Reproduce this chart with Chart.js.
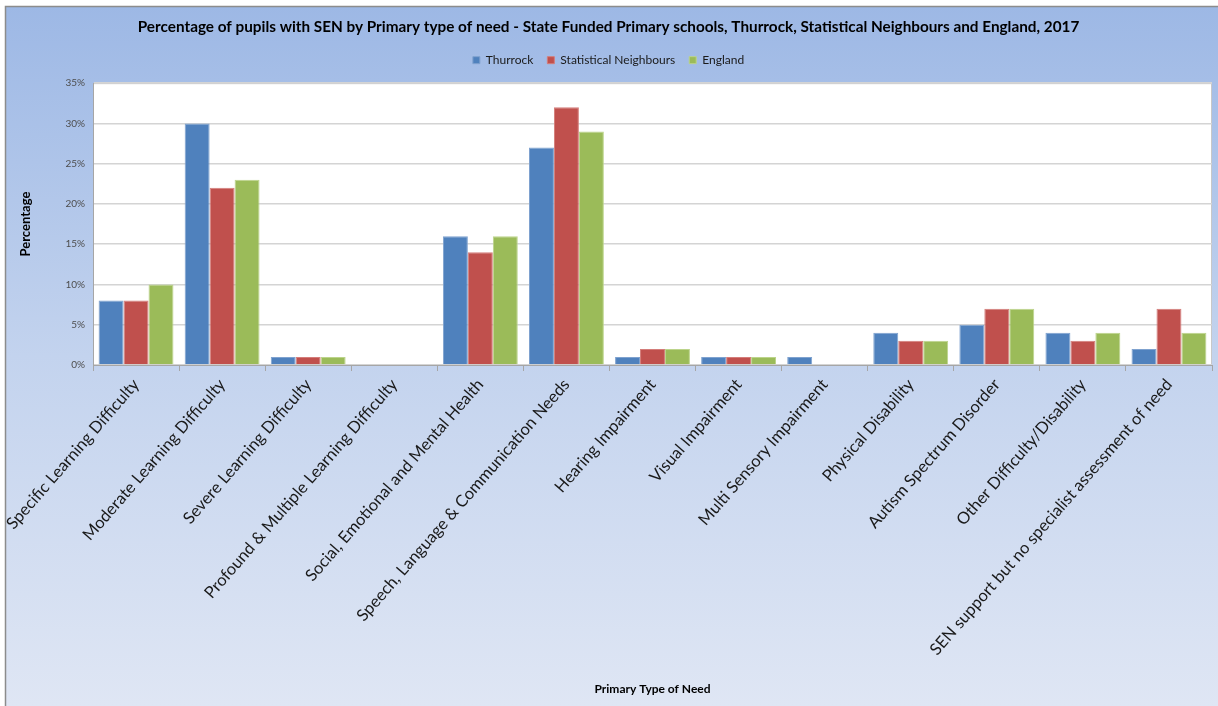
<!DOCTYPE html>
<html>
<head>
<meta charset="utf-8">
<title>SEN by primary type of need</title>
<script src="https://cdn.jsdelivr.net/npm/chart.js@4"></script>
<style>
  html, body { margin: 0; padding: 0; background: #ffffff; }
  #wrap { width: 1218px; height: 706px; position: relative; }
</style>
</head>
<body>
<div id="wrap"><canvas id="chartSEN"></canvas></div>
<script>
// primary type of need categories
const needTypes = [
    "Specific Learning Difficulty",
    "Moderate Learning Difficulty",
    "Severe Learning Difficulty",
    "Profound & Multiple Learning Difficulty",
    "Social, Emotional and Mental Health",
    "Speech, Language & Communication Needs",
    "Hearing Impairment",
    "Visual Impairment",
    "Multi Sensory Impairment",
    "Physical Disability",
    "Autism Spectrum Disorder",
    "Other Difficulty/Disability",
    "SEN support but no specialist assessment of need"
];

// percentage of pupils with SEN, 2017
const thurrock       = [8, 30, 1, 0, 16, 27, 1, 1, 1, 4, 5, 4, 2];
const statNeighbours = [8, 22, 1, 0, 14, 32, 2, 1, 0, 3, 7, 3, 7];
const england        = [10, 23, 1, 0, 16, 29, 2, 1, 0, 3, 7, 4, 4];

const yTicks = [0, 5, 10, 15, 20, 25, 30, 35];

const labelFont = "Lato, 'Open Sans', sans-serif";

/*
    Paints the blue frame and the white plot area behind the bars
*/
const backdrop = {
    id: "backdrop",
    beforeDraw(chart) {
        const ctx = chart.ctx;
        const w = chart.width, h = chart.height;
        ctx.save();
        ctx.fillStyle = "#ffffff";
        ctx.fillRect(0, 0, w, h);
        const grad = ctx.createLinearGradient(0, 6, 0, h);
        grad.addColorStop(0, "#9db8e5");
        grad.addColorStop(0.5, "#c3d3ee");
        grad.addColorStop(1, "#dfe6f4");
        ctx.fillStyle = grad;
        ctx.fillRect(5, 6, w - 5, h - 6);
        // frame edge
        ctx.strokeStyle = "#8c8c8c";
        ctx.lineWidth = 1.5;
        ctx.beginPath();
        ctx.moveTo(5.5, h);
        ctx.lineTo(5.5, 6.5);
        ctx.lineTo(w, 6.5);
        ctx.stroke();
        // plot area
        const a = chart.chartArea;
        ctx.fillStyle = "#ffffff";
        ctx.fillRect(a.left, a.top, a.right - a.left, a.bottom - a.top);
        ctx.strokeStyle = "#c8c8c8";
        ctx.lineWidth = 1;
        ctx.strokeRect(a.left + 0.5, a.top + 0.5, a.right - a.left - 1, a.bottom - a.top - 1);
        ctx.restore();
    }
};

function makeSeries(label, data, fill, edge) {
    return {
        label: label,
        data: data,
        backgroundColor: fill,
        borderColor: edge,
        borderWidth: 1,
        categoryPercentage: 0.87,
        barPercentage: 1.0
    };
}

const ctx = document.getElementById("chartSEN");

new Chart(ctx, {
    type: "bar",
    data: {
        labels: needTypes,
        datasets: [
            makeSeries("Thurrock", thurrock, "#4f81bd", "#7fa2cf"),
            makeSeries("Statistical Neighbours", statNeighbours, "#c0504d", "#d47d7a"),
            makeSeries("England", england, "#9bbb59", "#bcd48b")
        ]
    },
    options: {
        responsive: true,
        maintainAspectRatio: false,
        animation: false,
        layout: {
            padding: { left: 5, right: 6, top: 6, bottom: 0 }
        },
        plugins: {
            title: {
                display: true,
                text: "Percentage of pupils with SEN by Primary type of need - State Funded Primary schools, Thurrock, Statistical Neighbours and England, 2017",
                color: "#000000",
                font: { family: labelFont, size: 15.3, weight: "bold", lineHeight: 1.2 },
                padding: { top: 11.8, bottom: 4 }
            },
            legend: {
                display: true,
                position: "top",
                weight: 1600,
                labels: {
                    color: "#1a1a1a",
                    font: { family: labelFont, size: 12 },
                    boxWidth: 7,
                    boxHeight: 7,
                    padding: 14
                }
            },
            // empty spacer between the legend and the plot
            subtitle: {
                display: true,
                text: "",
                font: { size: 5, lineHeight: 1 },
                padding: { top: 1, bottom: 1 }
            },
            tooltip: { enabled: false }
        },
        scales: {
            x: {
                grid: {
                    display: true,
                    drawOnChartArea: false,
                    drawTicks: true,
                    tickLength: 6,
                    color: "#a6a6a6",
                    offset: true
                },
                border: { color: "#a6a6a6" },
                ticks: {
                    autoSkip: false,
                    maxRotation: 49,
                    minRotation: 49,
                    color: "#1a1a1a",
                    font: { family: labelFont, size: 16.5 },
                    padding: 4
                },
                title: {
                    display: true,
                    text: "Primary Type of Need",
                    color: "#000000",
                    font: { family: labelFont, size: 12, weight: "bold" },
                    padding: { top: 4, bottom: 10 }
                },
                afterFit(scale) {
                    scale.height = 341;
                    scale.paddingLeft = 0;
                }
            },
            y: {
                min: 0,
                max: 35,
                afterBuildTicks(scale) {
                    scale.ticks = yTicks.map(v => ({ value: v }));
                },
                grid: {
                    color: "#d4d4d4",
                    lineWidth: 1.5,
                    drawTicks: false
                },
                border: { color: "#a6a6a6" },
                ticks: {
                    color: "#4d4d4d",
                    font: { family: labelFont, size: 10 },
                    padding: 8,
                    callback: v => v + "%"
                },
                title: {
                    display: true,
                    text: "Percentage",
                    color: "#000000",
                    font: { family: labelFont, size: 13, weight: "bold" },
                    padding: { top: 13, bottom: 0 }
                },
                afterFit(scale) { scale.width = 88; }
            }
        }
    },
    plugins: [backdrop]
});
</script>
</body>
</html>
